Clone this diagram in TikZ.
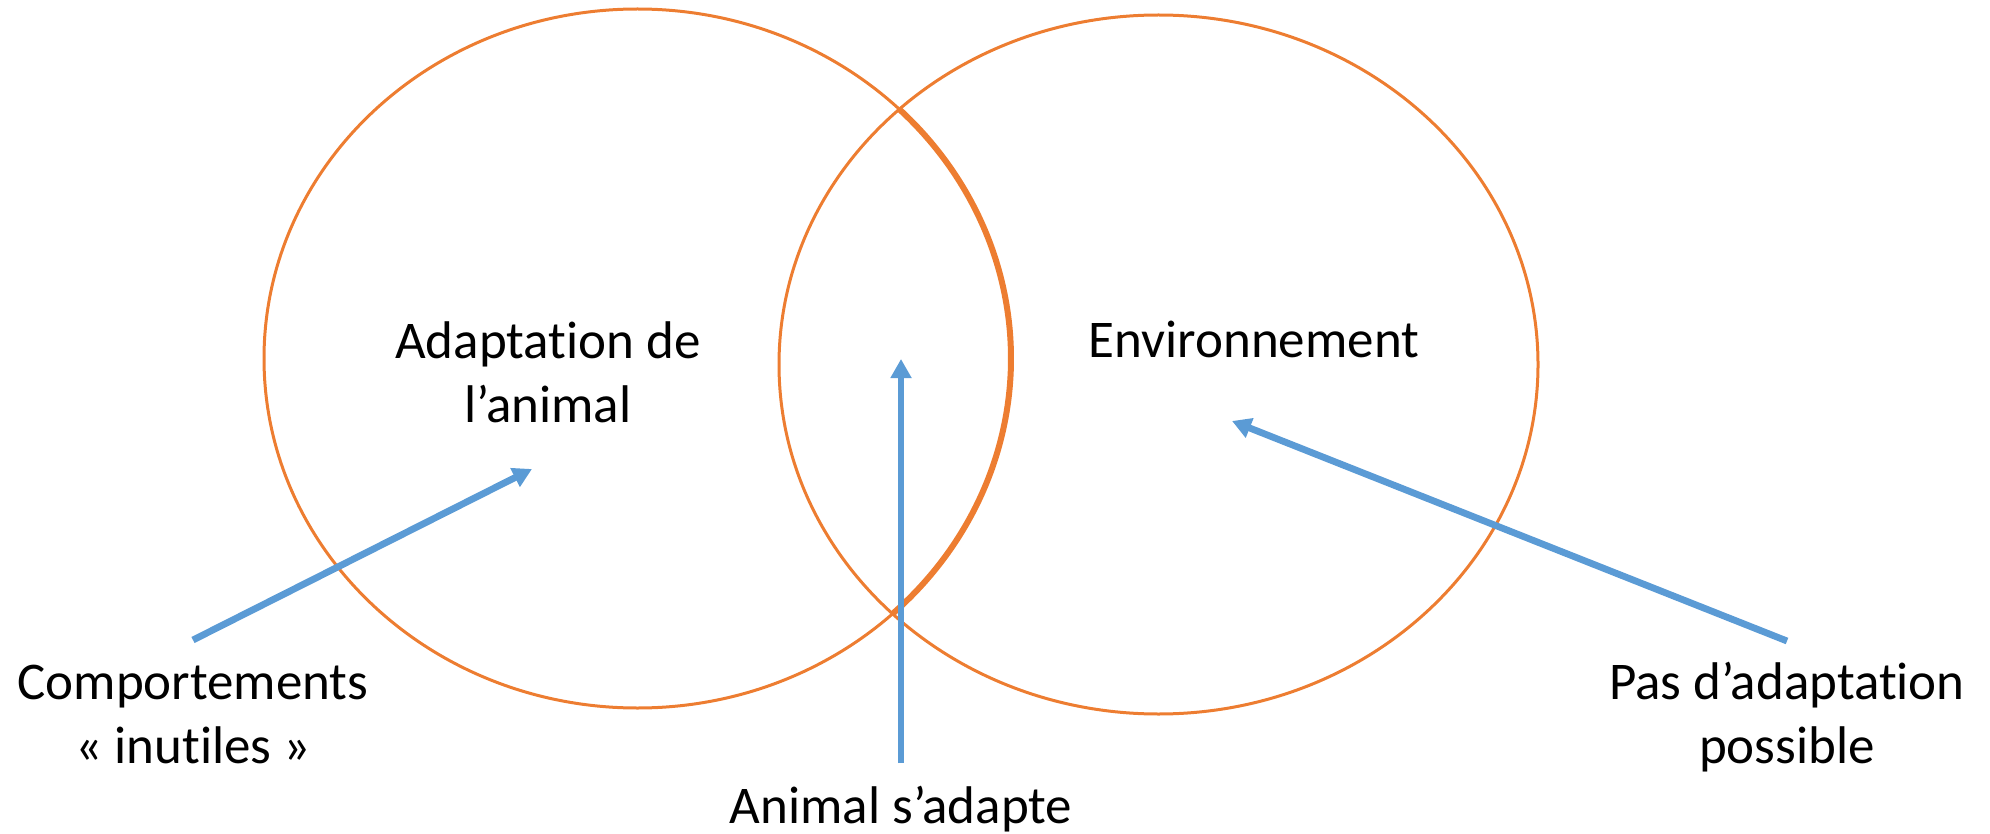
\documentclass[tikz,border=0pt]{standalone}
\usepackage{fontspec}
\setmainfont{Carlito}[Ligatures=NoCommon]
\usepackage{tikz}
\usetikzlibrary{positioning,arrows.meta}
\definecolor{setorange}{HTML}{ED7D31}
\definecolor{arrowblue}{HTML}{5B9BD5}

\begin{document}
\begin{tikzpicture}[
    x=0.5pt, y=-0.5pt,
    ring/.style={draw=setorange, line width=1.5pt},                 % Style for the two sets (ellipses)
    arr/.style={draw=arrowblue, line width=3.4pt,
                -{Triangle[length=9.5pt,width=10pt]}},             % Style for the blue arrows
    lbl/.style={align=center, inner sep=0pt, anchor=base,
                font=\fontsize{26.5}{32}\selectfont}                % Style for the texts (base = last line)
    ]
    \useasboundingbox (0,0) rectangle (1990,834);

    % The two sets
    \coordinate (animal) at (637.5,358.5);
    \coordinate (milieu) at (1158.5,364.5);
    \draw[ring] (animal) ellipse [x radius=373.5, y radius=349.5];
    \draw[ring] (milieu) ellipse [x radius=379.5, y radius=349.5];
    \draw[ring, line width=3pt] (animal) ++(-45.5:373.5 and 349.5)
        arc [start angle=-45.5, end angle=46.9, x radius=373.5, y radius=349.5];

    % Texts inside the sets
    \node[lbl] (adapt) at (548,422) {Adaptation de\\l’animal};
    \node[lbl] (env) at (1254,357) {Environnement};

    % Texts below, with their arrows
    \node[lbl] (comp) at (193,763) {Comportements\\« inutiles »};
    \node[lbl] (sadapte) at (901,823) {Animal s’adapte};
    \node[lbl] (pas) at (1787,763) {Pas d’adaptation\\possible};

    \coordinate (h1) at (532,469);
    \coordinate (h2) at (901,359);
    \coordinate (h3) at (1232,421);

    \draw[arr] (comp.base) ++(0,-123) -- (h1);
    \draw[arr] (sadapte.base) ++(0,-60) -- (h2);
    \draw[arr] (pas.base) ++(0,-122) -- (h3);

\end{tikzpicture}
\end{document}
